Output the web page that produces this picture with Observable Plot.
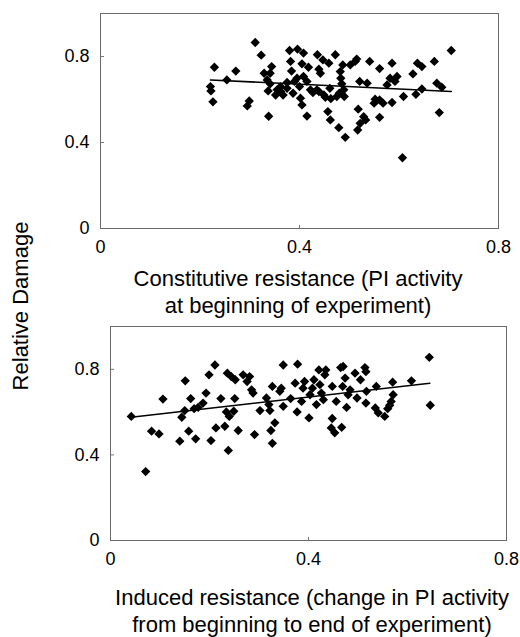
<!DOCTYPE html>
<html>
<head>
<meta charset="utf-8">
<script src="https://cdn.jsdelivr.net/npm/d3@7"></script>
<script src="https://cdn.jsdelivr.net/npm/@observablehq/plot@0.6"></script>
<style>
  html, body { margin: 0; padding: 0; background: #fff; }
  #wrap { position: relative; width: 520px; height: 637px; overflow: hidden; font-family: "Liberation Sans", Arial, sans-serif; color: #000; }
  .plot { position: absolute; left: 0; }
  .title { position: absolute; font-size: 22px; line-height: 27px; text-align: center; white-space: nowrap; transform: translateX(-50%); }
  #ylab { position: absolute; left: 21px; top: 306px; font-size: 22px; line-height: 22px; white-space: nowrap; transform: translate(-50%, -50%) rotate(-90deg); }
</style>
</head>
<body>
<div id="wrap">
  <div id="ylab">Relative Damage</div>
</div>
<script>
// ---- Data ----
const xTicks = [0, 0.4, 0.8];
const yTicks = [0, 0.4, 0.8];

const titleTop = ["Constitutive resistance (PI activity", "at beginning of experiment)"];
const titleBottom = ["Induced resistance (change in PI activity", "from beginning to end of experiment)"];
const yLabel = "Relative Damage";

// Top panel: constitutive resistance vs relative damage
const topX = [0.229,0.221,0.222,0.226,0.254,0.272,0.311,0.323,0.295,0.299,
  0.338,0.329,0.344,0.341,0.335,0.341,0.337,0.352,0.362,0.367,
  0.375,0.380,0.382,0.384,0.396,0.408,0.405,0.418,0.395,0.408,
  0.415,0.400,0.422,0.402,0.405,0.415,0.436,0.447,0.459,0.439,
  0.442,0.472,0.439,0.449,0.461,0.463,0.457,0.462,0.479,0.492,
  0.487,0.482,0.483,0.485,0.480,0.490,0.502,0.515,0.512,0.521,
  0.536,0.541,0.518,0.529,0.533,0.522,0.517,0.561,0.552,0.561,
  0.550,0.568,0.561,0.586,0.576,0.582,0.596,0.592,0.586,0.609,
  0.607,0.628,0.637,0.646,0.634,0.646,0.671,0.676,0.686,0.681,0.705,
  0.362,0.375,0.390,0.427,0.435,0.452,0.475,0.489,0.387,0.355];
const topY = [0.750,0.660,0.640,0.589,0.691,0.732,0.865,0.806,0.570,0.593,
  0.522,0.722,0.753,0.722,0.691,0.673,0.640,0.621,0.637,0.621,
  0.652,0.828,0.777,0.732,0.834,0.816,0.766,0.750,0.699,0.707,
  0.684,0.660,0.645,0.606,0.575,0.523,0.808,0.784,0.769,0.741,
  0.722,0.808,0.637,0.621,0.652,0.604,0.544,0.505,0.469,0.424,
  0.761,0.730,0.699,0.673,0.629,0.614,0.761,0.788,0.777,0.684,
  0.676,0.777,0.555,0.520,0.505,0.489,0.458,0.517,0.601,0.598,
  0.583,0.583,0.744,0.769,0.668,0.699,0.707,0.684,0.586,0.614,
  0.329,0.719,0.769,0.753,0.624,0.649,0.777,0.676,0.657,0.539,0.828,
  0.660,0.679,0.684,0.632,0.645,0.610,0.614,0.645,0.629,0.645];
const topTrendX = [0.221, 0.705];
const topTrendY = [0.691, 0.637];

// Bottom panel: induced resistance vs relative damage
const botX = [0.042,0.071,0.083,0.098,0.106,0.140,0.144,0.151,0.150,0.158,
  0.162,0.169,0.172,0.177,0.187,0.193,0.199,0.203,0.211,0.213,
  0.223,0.231,0.234,0.240,0.236,0.244,0.252,0.249,0.251,0.238,
  0.258,0.268,0.276,0.281,0.285,0.288,0.291,0.302,0.315,0.320,
  0.322,0.324,0.327,0.332,0.327,0.345,0.342,0.349,0.349,0.364,
  0.373,0.378,0.377,0.386,0.389,0.392,0.401,0.403,0.408,0.411,
  0.416,0.421,0.423,0.426,0.430,0.433,0.435,0.448,0.448,0.446,
  0.453,0.456,0.467,0.465,0.470,0.469,0.474,0.477,0.480,0.484,
  0.494,0.498,0.505,0.514,0.516,0.516,0.517,0.537,0.535,0.541,
  0.554,0.560,0.564,0.567,0.571,0.570,0.608,0.644,0.646];
const botY = [0.580,0.322,0.511,0.498,0.661,0.464,0.576,0.746,0.607,0.511,
  0.663,0.616,0.475,0.622,0.642,0.689,0.774,0.467,0.820,0.526,
  0.663,0.534,0.601,0.580,0.782,0.766,0.751,0.604,0.663,0.421,
  0.514,0.774,0.743,0.766,0.704,0.689,0.495,0.607,0.666,0.635,
  0.607,0.514,0.454,0.550,0.720,0.712,0.697,0.820,0.627,0.663,
  0.735,0.824,0.601,0.650,0.712,0.743,0.573,0.681,0.712,0.751,
  0.635,0.797,0.728,0.689,0.658,0.774,0.797,0.570,0.720,0.526,
  0.503,0.650,0.529,0.808,0.813,0.720,0.759,0.622,0.681,0.704,
  0.782,0.666,0.751,0.808,0.789,0.642,0.697,0.720,0.619,0.596,
  0.580,0.616,0.632,0.650,0.681,0.740,0.746,0.856,0.632];
const botTrendX = [0.046, 0.645];
const botTrendY = [0.577, 0.735];

// ---- Drawing ----
const wrap = document.getElementById("wrap");
document.getElementById("ylab").textContent = yLabel;

function panel(xs, ys, tx, ty, opts) {
  const pts = xs.map((x, i) => ({x, y: ys[i]}));
  const trend = tx.map((x, i) => ({x, y: ty[i]}));
  return Plot.plot({
    width: 520,
    height: opts.height,
    marginTop: opts.mt,
    marginBottom: opts.mb,
    marginLeft: opts.ml,
    marginRight: opts.mr,
    style: {fontFamily: '"Liberation Sans", Arial, sans-serif', fontSize: "18px", color: "#000", background: "transparent", overflow: "visible"},
    x: {domain: [0, 0.8]},
    y: {domain: [0, 1]},
    marks: [
      Plot.axisX({ticks: xTicks, tickSize: -3, tickPadding: 15, tickFormat: d => String(d), label: null, stroke: "#777"}),
      Plot.axisY({ticks: yTicks, tickSize: -4, tickPadding: 15, tickFormat: d => String(d), label: null, stroke: "#777"}),
      Plot.frame({stroke: "#6a6a6a"}),
      Plot.line(trend, {x: "x", y: "y", stroke: "#000", strokeWidth: 1.6}),
      Plot.dot(pts, {x: "x", y: "y", symbol: "diamond2", r: 4.2, fill: "#000", stroke: "none"})
    ]
  });
}

const p1 = panel(topX, topY, topTrendX, topTrendY, {height: 260, mt: 13, mb: 32, ml: 100, mr: 22});
p1.classList.add("plot");
p1.style.top = "0px";
wrap.appendChild(p1);

const p2 = panel(botX, botY, botTrendX, botTrendY, {height: 270, mt: 26, mb: 30, ml: 110, mr: 14});
p2.classList.add("plot");
p2.style.top = "300px";
wrap.appendChild(p2);

function addTitle(lines, cx, top) {
  lines.forEach((t, i) => {
    const d = document.createElement("div");
    d.className = "title";
    d.textContent = t;
    d.style.left = cx + "px";
    d.style.top = (top + i * 27) + "px";
    wrap.appendChild(d);
  });
}
addTitle(titleTop, 298, 265);
addTitle(titleBottom, 312, 584);
</script>
</body>
</html>
